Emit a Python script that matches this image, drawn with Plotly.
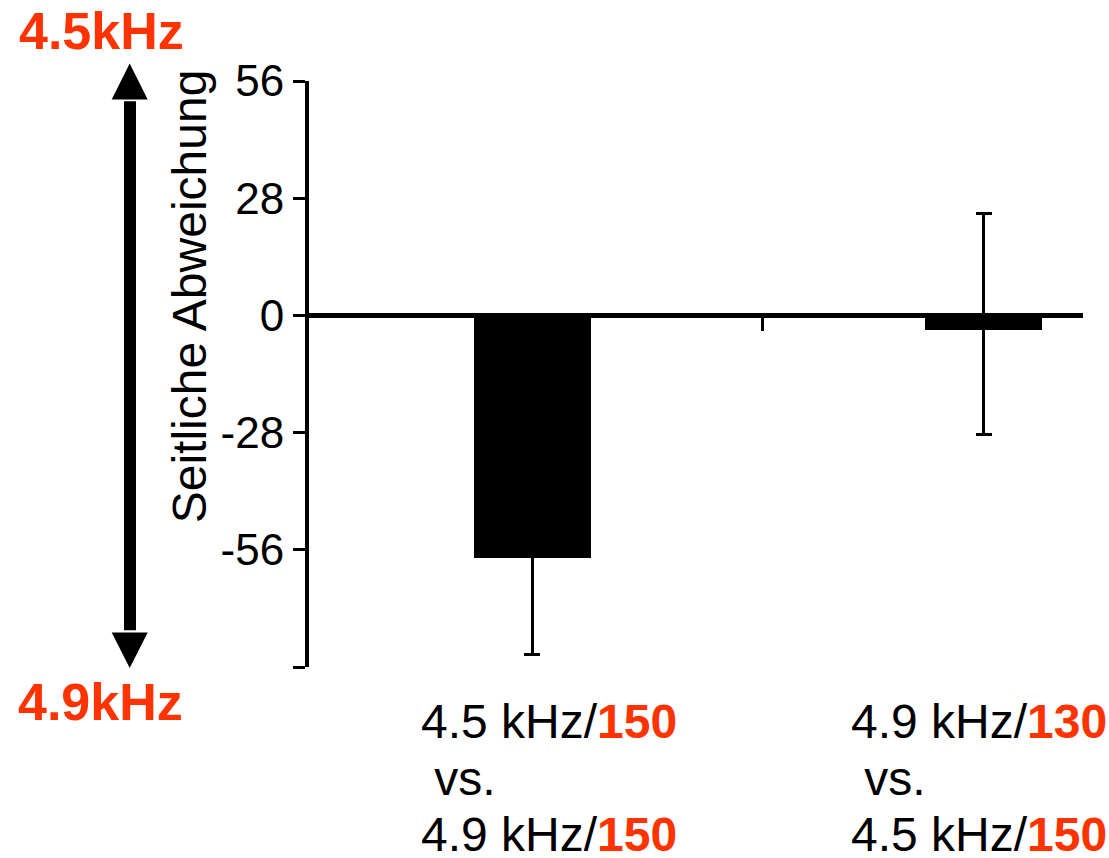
import plotly.graph_objects as go

# ---- data ----
positions = [0, 1]
means = [-58.0, -3.6]
err_plus = [23.1, 28.0]
err_minus = [23.1, 24.8]
first_freq = ["4.5 kHz", "4.9 kHz"]
first_level = ["150", "130"]
second_freq = ["4.9 kHz", "4.5 kHz"]
second_level = ["150", "150"]
y_ticks = [-84, -56, -28, 0, 28, 56]
y_ticktext = ["", "-56", "-28", "0", "28", "56"]
y_title = "Seitliche Abweichung"
arrow_top_label = "4.5kHz"
arrow_bottom_label = "4.9kHz"

RED = "#FF3300"
FONT = "Liberation Sans, Arial, sans-serif"

fig = go.Figure()
fig.add_trace(go.Bar(
    x=positions, y=means, width=0.2585,
    marker=dict(color="black", line=dict(width=0)),
    error_y=dict(type="data", array=err_plus, arrayminus=err_minus,
                 symmetric=False, color="black", thickness=3, width=8),
    showlegend=False,
))


def px_x(px):
    return (px - 309) / 774.0


def px_y(py):
    return (666.7 - py) / 586.0


annotations = []
# category labels, one annotation per line
label_dx = [-0.252, -0.299]
line_centers_px = [721, 778, 834]
for i, p in enumerate(positions):
    texts = [
        f"{first_freq[i]}/<b><span style='color:{RED}'>{first_level[i]}</span></b>",
        "\u00a0vs.",
        f"{second_freq[i]}/<b><span style='color:{RED}'>{second_level[i]}</span></b>",
    ]
    for t, cy in zip(texts, line_centers_px):
        annotations.append(dict(
            x=p + label_dx[i], xref="x", xanchor="left",
            y=px_y(cy), yref="paper", yanchor="middle",
            text=t, showarrow=False, align="left",
            font=dict(family=FONT, size=48, color="black"),
        ))

# y axis title
annotations.append(dict(
    x=px_x(189), xref="paper", xanchor="center",
    y=px_y(296), yref="paper", yanchor="middle",
    text=y_title, textangle=-90, showarrow=False,
    font=dict(family=FONT, size=48, color="black"),
))
# arrow labels
annotations.append(dict(
    x=px_x(101), xref="paper", xanchor="center",
    y=px_y(31), yref="paper", yanchor="middle",
    text=f"<b>{arrow_top_label}</b>", showarrow=False,
    font=dict(family=FONT, size=52, color=RED),
))
annotations.append(dict(
    x=px_x(100), xref="paper", xanchor="center",
    y=px_y(702), yref="paper", yanchor="middle",
    text=f"<b>{arrow_bottom_label}</b>", showarrow=False,
    font=dict(family=FONT, size=52, color=RED),
))

shapes = [
    # shaft
    dict(type="rect", xref="paper", yref="paper",
         x0=px_x(124), x1=px_x(136), y0=px_y(630), y1=px_y(101),
         fillcolor="black", line=dict(width=0), layer="above"),
    # top head
    dict(type="path", xref="paper", yref="paper",
         path=f"M {px_x(111.7)} {px_y(99.3)} L {px_x(147.7)} {px_y(99.3)} L {px_x(129.7)} {px_y(63.3)} Z",
         fillcolor="black", line=dict(width=0), layer="above"),
    # bottom head
    dict(type="path", xref="paper", yref="paper",
         path=f"M {px_x(111.7)} {px_y(632.3)} L {px_x(147.7)} {px_y(632.3)} L {px_x(129.7)} {px_y(667.7)} Z",
         fillcolor="black", line=dict(width=0), layer="above"),
]

fig.update_layout(
    width=1109, height=858,
    margin=dict(l=309, r=26, t=81, b=191, pad=0),
    paper_bgcolor="white", plot_bgcolor="white",
    font=dict(family=FONT, color="black"),
    bargap=0,
    xaxis=dict(
        range=[-0.4947, 1.22], anchor="free", position=0.6,
        showline=True, linecolor="black", linewidth=5,
        ticks="outside", tickvals=[0.51], ticklen=13, tickwidth=3, tickcolor="black",
        showticklabels=False, showgrid=False, zeroline=False,
    ),
    yaxis=dict(
        range=[-84, 56], tickvals=y_ticks, ticktext=y_ticktext,
        showline=True, linecolor="black", linewidth=4,
        ticks="outside", ticklen=12, tickwidth=3, tickcolor="black",
        tickfont=dict(family=FONT, size=44, color="black"),
        showgrid=False, zeroline=False,
    ),
    annotations=annotations,
    shapes=shapes,
)

fig.write_html("out.html",
               config={"displayModeBar": False},
               post_script="document.body.style.margin='0';document.body.style.overflow='hidden';")
